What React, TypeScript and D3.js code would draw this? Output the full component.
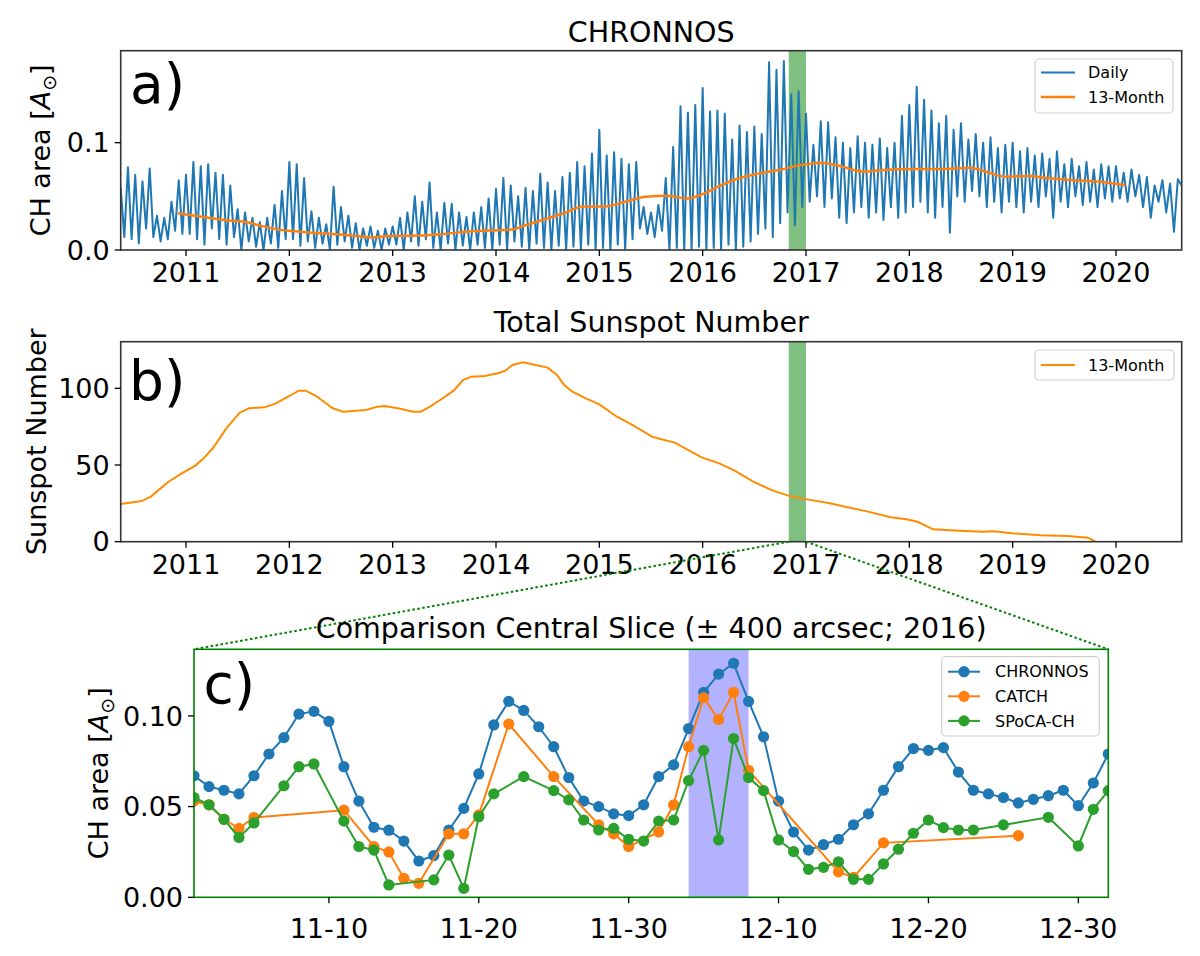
import React from "react";
import * as d3 from "d3";

// ---------- panel a: CHRONNOS daily CH area (one value every ~13 days, peaks and troughs)
const daily2010 = [0.058, 0.012, 0.077, 0.010, 0.070, 0.006, 0.064, 0.020, 0.076, 0.012, 0.032, 0.008, 0.030, 0.010, 0.045, 0.018, 0.065, 0.015];
const daily2011 = [0.070, 0.015, 0.082, 0.010, 0.078, 0.005, 0.080, 0.020, 0.072, 0.010, 0.070, 0.005, 0.060, 0.012, 0.038, 0.000, 0.035, 0.008, 0.030, 0.003, 0.026, 0.000, 0.030, 0.006, 0.042, 0.002, 0.055, 0.010];
const daily2012 = [0.082, 0.010, 0.080, 0.004, 0.067, 0.008, 0.036, 0.002, 0.030, 0.006, 0.024, 0.000, 0.059, 0.005, 0.040, 0.008, 0.032, 0.002, 0.025, 0.000, 0.020, 0.004, 0.022, 0.002, 0.018, 0.000, 0.020, 0.005];
const daily2013 = [0.022, 0.005, 0.030, 0.000, 0.035, 0.008, 0.050, 0.004, 0.045, 0.010, 0.063, 0.002, 0.035, 0.000, 0.044, 0.006, 0.043, 0.000, 0.035, 0.004, 0.031, 0.000, 0.035, 0.005, 0.040, 0.002, 0.048, 0.000];
const daily2014 = [0.057, 0.005, 0.067, 0.000, 0.060, 0.008, 0.050, 0.003, 0.058, 0.000, 0.055, 0.006, 0.071, 0.002, 0.063, 0.000, 0.055, 0.004, 0.068, 0.000, 0.072, 0.003, 0.082, 0.000, 0.078, 0.005, 0.090, 0.000];
const daily2015 = [0.112, 0.002, 0.088, 0.000, 0.091, 0.005, 0.085, 0.000, 0.080, 0.010, 0.082, 0.020, 0.040, 0.015, 0.035, 0.012, 0.042, 0.018, 0.067, 0.000, 0.096, 0.002, 0.134, 0.000, 0.128, 0.000, 0.135, 0.003];
const daily2016 = [0.151, 0.000, 0.129, 0.002, 0.130, 0.000, 0.127, 0.005, 0.103, 0.000, 0.116, 0.003, 0.110, 0.008, 0.115, 0.015, 0.108, 0.020, 0.175, 0.012, 0.168, 0.025, 0.176, 0.035, 0.145, 0.023, 0.148, 0.040];
const daily2017 = [0.127, 0.045, 0.098, 0.050, 0.120, 0.040, 0.119, 0.048, 0.105, 0.030, 0.100, 0.025, 0.095, 0.035, 0.106, 0.040, 0.100, 0.030, 0.098, 0.035, 0.104, 0.028, 0.095, 0.040, 0.100, 0.030, 0.125, 0.035];
const daily2018 = [0.135, 0.040, 0.152, 0.045, 0.140, 0.035, 0.130, 0.030, 0.118, 0.040, 0.125, 0.016, 0.112, 0.050, 0.118, 0.045, 0.103, 0.055, 0.108, 0.050, 0.100, 0.040, 0.105, 0.045, 0.095, 0.035, 0.098, 0.045];
const daily2019 = [0.100, 0.040, 0.092, 0.035, 0.095, 0.045, 0.088, 0.040, 0.090, 0.050, 0.085, 0.030, 0.092, 0.045, 0.080, 0.040, 0.085, 0.050, 0.078, 0.042, 0.082, 0.045, 0.075, 0.040, 0.080, 0.048, 0.078, 0.045];
const daily2020 = [0.078, 0.048, 0.072, 0.045, 0.075, 0.050, 0.070, 0.040, 0.068, 0.030, 0.060, 0.045, 0.065, 0.035, 0.062, 0.017, 0.066, 0.060];
const dailyYears = [2010, 2011, 2012, 2013, 2014, 2015, 2016, 2017, 2018, 2019, 2020];
const dailyByYear = [daily2010, daily2011, daily2012, daily2013, daily2014, daily2015, daily2016, daily2017, daily2018, daily2019, daily2020];

// 13-month smoothed CH area
const smoothYears = [2010.92, 2011.15, 2011.4, 2011.55, 2011.75, 2011.9, 2012.1, 2012.3, 2012.55, 2012.8, 2013.0, 2013.25, 2013.5, 2013.75, 2014.0, 2014.15, 2014.3, 2014.5, 2014.65, 2014.85, 2015.05, 2015.25, 2015.45, 2015.65, 2015.85, 2016.0, 2016.15, 2016.35, 2016.55, 2016.75, 2016.92, 2017.15, 2017.35, 2017.55, 2017.75, 2018.05, 2018.35, 2018.58, 2018.72, 2018.93, 2019.15, 2019.35, 2019.55, 2019.9, 2020.09];
const smoothArea = [0.0342, 0.031, 0.0275, 0.0265, 0.022, 0.019, 0.017, 0.0155, 0.014, 0.0118, 0.0132, 0.0135, 0.015, 0.0175, 0.0185, 0.019, 0.0235, 0.0295, 0.034, 0.0405, 0.0405, 0.045, 0.0497, 0.0505, 0.048, 0.052, 0.059, 0.0668, 0.0714, 0.0748, 0.0786, 0.0814, 0.0777, 0.073, 0.0745, 0.0755, 0.0755, 0.0767, 0.0736, 0.0683, 0.069, 0.0668, 0.0652, 0.063, 0.0605];

// ---------- panel b: 13-month smoothed total sunspot number
const ssnYears = [2010.37, 2010.57, 2010.66, 2010.83, 2010.96, 2011.09, 2011.16, 2011.26, 2011.39, 2011.52, 2011.61, 2011.76, 2011.87, 2012.0, 2012.09, 2012.16, 2012.26, 2012.42, 2012.52, 2012.74, 2012.85, 2012.92, 2013.05, 2013.2, 2013.27, 2013.35, 2013.46, 2013.59, 2013.68, 2013.76, 2013.89, 2014.02, 2014.09, 2014.16, 2014.26, 2014.35, 2014.5, 2014.59, 2014.66, 2014.74, 2014.87, 2015.0, 2015.17, 2015.32, 2015.51, 2015.6, 2015.73, 2015.99, 2016.16, 2016.31, 2016.49, 2016.68, 2016.86, 2017.01, 2017.23, 2017.38, 2017.6, 2017.82, 2017.97, 2018.08, 2018.23, 2018.49, 2018.71, 2018.82, 2019.01, 2019.27, 2019.53, 2019.73, 2019.8];
const ssnValues = [24.6, 26.5, 29.4, 39.1, 44.6, 49.6, 53.7, 60.9, 73.9, 84.1, 87.0, 87.6, 90.2, 95.0, 98.5, 98.5, 95.0, 87.0, 84.8, 85.9, 88.0, 88.5, 87.0, 84.8, 84.8, 87.6, 92.4, 98.5, 105.4, 107.6, 108.0, 109.8, 111.5, 115.2, 117.0, 115.7, 113.5, 108.7, 102.2, 97.8, 93.5, 89.5, 81.5, 76.1, 68.5, 66.8, 64.6, 55.0, 51.1, 46.3, 39.1, 33.3, 29.4, 27.6, 25.0, 22.8, 19.6, 15.9, 14.6, 13.0, 8.1, 7.2, 6.5, 6.8, 5.4, 4.2, 3.7, 2.6, 0];

// ---------- panel c: central slice, one value per day from 2016-11-01 (null = no detection)
const chronnosSlice = [0.067, 0.061, 0.059, 0.057, 0.067, 0.079, 0.088, 0.101, 0.1025, 0.097, 0.072, 0.053, 0.0386, 0.037, 0.031, 0.020, 0.023, 0.037, 0.049, 0.068, 0.095, 0.108, 0.103, 0.094, 0.083, 0.066, 0.053, 0.050, 0.046, 0.045, 0.051, 0.0665, 0.073, 0.093, 0.113, 0.123, 0.129, 0.108, 0.0885, 0.053, 0.036, 0.026, 0.029, 0.032, 0.040, 0.046, 0.059, 0.072, 0.082, 0.081, 0.0825, 0.069, 0.059, 0.057, 0.055, 0.052, 0.054, 0.056, 0.059, 0.0505, 0.063, 0.079];
const catchSlice = [0.053, 0.051, 0.043, 0.038, 0.044, null, null, null, null, null, 0.048, null, 0.028, 0.025, 0.0105, 0.0077, null, 0.035, 0.035, 0.0454, null, 0.0955, null, null, 0.0665, null, null, 0.040, 0.035, 0.028, null, 0.036, 0.051, 0.083, 0.110, 0.098, 0.113, 0.070, null, null, null, null, null, 0.014, 0.011, null, 0.030, null, null, null, null, null, null, null, null, 0.034, null, null, null, null, null, null];
const spocaSlice = [0.055, 0.051, 0.043, 0.033, 0.041, null, 0.0615, 0.072, 0.0735, null, 0.042, 0.028, 0.026, 0.0068, null, null, 0.0096, 0.0233, 0.0049, 0.0444, 0.057, null, 0.0665, null, 0.0588, 0.0537, 0.0426, 0.0371, 0.038, 0.032, 0.031, 0.042, 0.0426, 0.0643, 0.081, 0.0316, 0.0875, 0.066, 0.0588, 0.0316, 0.0252, 0.0154, 0.0165, 0.0196, 0.0099, 0.0099, 0.0184, 0.0265, 0.0353, 0.0426, 0.0384, 0.0371, 0.0371, null, 0.0399, null, null, 0.0441, null, 0.0283, 0.0485, 0.0588];

const yearTicks = [2011, 2012, 2013, 2014, 2015, 2016, 2017, 2018, 2019, 2020];
const areaTicksA = [0, 0.1];
const ssnTicks = [0, 50, 100];
const areaTicksC = [0, 0.05, 0.1];
const dayTicks = ["2016-11-10", "2016-11-20", "2016-11-30", "2016-12-10", "2016-12-20", "2016-12-30"];

const FONT = "DejaVu Sans, Verdana, sans-serif";
const BLUE = "#1f77b4";
const ORANGE = "#ff7f0e";
const GREEN = "#2ca02c";

const A = { l: 120.7, r: 1181.7, t: 50.7, b: 250 };
const B = { l: 120.7, r: 1181.7, t: 341.7, b: 541.7 };
const C = { l: 194, r: 1108.3, t: 649.3, b: 897.3 };

const xYear = d3.scaleLinear().domain([2010.368, 2020.636]).range([A.l, A.r]);
const yA = d3.scaleLinear().domain([0, 0.1857]).range([A.b, A.t]);
const yB = d3.scaleLinear().domain([0, 130.4]).range([B.b, B.t]);
const parseDay = d3.utcParse("%Y-%m-%d");
const day0 = parseDay("2016-11-01") as Date;
const xDay = d3.scaleUtc().domain([day0, parseDay("2017-01-01") as Date]).range([C.l, C.r]);
const yC = d3.scaleLinear().domain([0, 0.1367]).range([C.b, C.t]);

const bandStart = 2016 + 305 / 366; // 2016-11-01
const bandEnd = 2017.0;
const blueBand = ["2016-12-04", "2016-12-08"];

type P = { t: number; v: number };

const dailyPts: P[] = dailyByYear.flatMap((vals, k) => {
  const y = dailyYears[k];
  const s = Math.max(y, xYear.domain()[0]);
  const e = Math.min(y + 1, xYear.domain()[1]);
  const last = k === dailyByYear.length - 1;
  return vals.map((v, j) => ({ t: s + ((e - s) * j) / (last ? vals.length - 1 : vals.length), v }));
});
const smoothPts: P[] = smoothYears.map((t, i) => ({ t, v: smoothArea[i] }));
const ssnPts: P[] = ssnYears.map((t, i) => ({ t, v: ssnValues[i] }));

const slicePts = (arr: (number | null)[]) =>
  arr
    .map((v, i) => ({ d: d3.utcDay.offset(day0, i), v }))
    .filter((p) => p.v !== null) as { d: Date; v: number }[];

const lineA = d3.line<P>().x((p) => xYear(p.t)).y((p) => yA(p.v));
const smoothLine = d3.line<P>().x((p) => xYear(p.t)).y((p) => yA(p.v)).curve(d3.curveMonotoneX);
const lineB = d3.line<P>().x((p) => xYear(p.t)).y((p) => yB(p.v));
const lineC = d3.line<{ d: Date; v: number }>().x((p) => xDay(p.d)).y((p) => yC(p.v));

const TICK = 27;
const TITLE = 28.5;
const LABEL = 27;

function Frame({ box, color = "#333" }: { box: typeof A; color?: string }) {
  return (
    <rect x={box.l} y={box.t} width={box.r - box.l} height={box.b - box.t} fill="none" stroke={color} strokeWidth={1.6} />
  );
}

function XTicks({ pos, labels, y, off = 32 }: { pos: number[]; labels: string[]; y: number; off?: number }) {
  return (
    <g>
      {pos.map((x, i) => (
        <g key={i}>
          <line x1={x} x2={x} y1={y} y2={y + 6} stroke="#000" strokeWidth={1.3} />
          <text x={x} y={y + off} textAnchor="middle" fontSize={TICK}>
            {labels[i]}
          </text>
        </g>
      ))}
    </g>
  );
}

function YTicks({ pos, labels, x }: { pos: number[]; labels: string[]; x: number }) {
  return (
    <g>
      {pos.map((y, i) => (
        <g key={i}>
          <line x1={x - 6} x2={x} y1={y} y2={y} stroke="#000" strokeWidth={1.3} />
          <text x={x - 11} y={y} dy="0.36em" textAnchor="end" fontSize={TICK}>
            {labels[i]}
          </text>
        </g>
      ))}
    </g>
  );
}

function AreaLabel({ x, y }: { x: number; y: number }) {
  return (
    <text transform={`translate(${x},${y}) rotate(-90)`} textAnchor="middle" dy="0.36em" fontSize={LABEL}>
      CH area [<tspan fontStyle="italic">A</tspan>
      <tspan fontSize={19} dy={6}>⊙</tspan>
      <tspan dy={-6}>]</tspan>
    </text>
  );
}

function LegendBox({ x, y, w, h }: { x: number; y: number; w: number; h: number }) {
  return <rect x={x} y={y} width={w} height={h} rx={4} fill="#fff" fillOpacity={0.85} stroke="#d0d0d0" strokeWidth={1.2} />;
}

export default function App() {
  const f1 = d3.format(".1f");
  const f2 = d3.format(".2f");
  const fmtDay = d3.utcFormat("%m-%d");
  const cSeries = [
    { name: "CHRONNOS", color: BLUE, pts: slicePts(chronnosSlice) },
    { name: "CATCH", color: ORANGE, pts: slicePts(catchSlice) },
    { name: "SPoCA-CH", color: GREEN, pts: slicePts(spocaSlice) },
  ];
  const bx0 = xYear(bandStart);
  const bx1 = xYear(bandEnd);

  return (
    <svg width={1200} height={956} viewBox="0 0 1200 956" style={{ position: "absolute", left: 0, top: 0, background: "#fff" }} fontFamily={FONT}>
      <defs>
        <clipPath id="clipA">
          <rect x={A.l} y={A.t} width={A.r - A.l} height={A.b - A.t} />
        </clipPath>
        <clipPath id="clipB">
          <rect x={B.l} y={B.t} width={B.r - B.l} height={B.b - B.t} />
        </clipPath>
        <clipPath id="clipC">
          <rect x={C.l} y={C.t} width={C.r - C.l} height={C.b - C.t} />
        </clipPath>
      </defs>
      <rect width={1200} height={956} fill="#fff" />

      {/* ---------- panel a ---------- */}
      <text x={(A.l + A.r) / 2} y={42} textAnchor="middle" fontSize={TITLE}>CHRONNOS</text>
      <rect x={bx0} y={A.t} width={bx1 - bx0} height={A.b - A.t} fill="green" fillOpacity={0.5} />
      <g clipPath="url(#clipA)">
        <path d={lineA(dailyPts) ?? ""} fill="none" stroke={BLUE} strokeWidth={2} strokeLinejoin="round" />
        <path d={smoothLine(smoothPts) ?? ""} fill="none" stroke={ORANGE} strokeWidth={2.5} />
      </g>
      <Frame box={A} />
      <XTicks pos={yearTicks.map((t) => xYear(t))} labels={yearTicks.map(String)} y={A.b} />
      <YTicks pos={areaTicksA.map((v) => yA(v))} labels={areaTicksA.map(f1)} x={A.l} />
      <AreaLabel x={40} y={(A.t + A.b) / 2} />
      <text x={130} y={103} fontSize={55}>a)</text>
      <LegendBox x={1035} y={59} w={138} h={54} />
      <line x1={1041} x2={1075} y1={72.5} y2={72.5} stroke={BLUE} strokeWidth={2} />
      <text x={1088} y={72.5} dy="0.36em" fontSize={16}>Daily</text>
      <line x1={1041} x2={1075} y1={97} y2={97} stroke={ORANGE} strokeWidth={2.5} />
      <text x={1088} y={97} dy="0.36em" fontSize={16}>13-Month</text>

      {/* ---------- panel b ---------- */}
      <text x={(B.l + B.r) / 2} y={331.5} textAnchor="middle" fontSize={TITLE}>Total Sunspot Number</text>
      <rect x={bx0} y={B.t} width={bx1 - bx0} height={B.b - B.t} fill="green" fillOpacity={0.5} />
      <g clipPath="url(#clipB)">
        <path d={lineB(ssnPts) ?? ""} fill="none" stroke="#ff8c00" strokeWidth={2} />
      </g>
      <Frame box={B} />
      <XTicks pos={yearTicks.map((t) => xYear(t))} labels={yearTicks.map(String)} y={B.b} />
      <YTicks pos={ssnTicks.map((v) => yB(v))} labels={ssnTicks.map(String)} x={B.l} />
      <text transform={`translate(36,${(B.t + B.b) / 2}) rotate(-90)`} textAnchor="middle" dy="0.36em" fontSize={LABEL}>
        Sunspot Number
      </text>
      <text x={129} y={400} fontSize={55}>b)</text>
      <LegendBox x={1035} y={350} w={139} h={30} />
      <line x1={1041} x2={1075} y1={365} y2={365} stroke="#ff8c00" strokeWidth={2} />
      <text x={1088} y={365} dy="0.36em" fontSize={16}>13-Month</text>

      {/* ---------- zoom connectors ---------- */}
      <line x1={bx0} y1={B.b} x2={C.l} y2={C.t} stroke="green" strokeWidth={2} strokeDasharray="2.5,2.5" />
      <line x1={bx1} y1={B.b} x2={C.r} y2={C.t} stroke="green" strokeWidth={2} strokeDasharray="2.5,2.5" />

      {/* ---------- panel c ---------- */}
      <text x={(C.l + C.r) / 2} y={638} textAnchor="middle" fontSize={TITLE}>
        Comparison Central Slice (± 400 arcsec; 2016)
      </text>
      <rect
        x={xDay(parseDay(blueBand[0]) as Date)}
        y={C.t}
        width={xDay(parseDay(blueBand[1]) as Date) - xDay(parseDay(blueBand[0]) as Date)}
        height={C.b - C.t}
        fill="blue"
        fillOpacity={0.3}
      />
      <g clipPath="url(#clipC)">
        {cSeries.map((s) => (
          <g key={s.name}>
            <path d={lineC(s.pts) ?? ""} fill="none" stroke={s.color} strokeWidth={2} />
            {s.pts.map((p, i) => (
              <circle key={i} cx={xDay(p.d)} cy={yC(p.v)} r={5.6} fill={s.color} />
            ))}
          </g>
        ))}
      </g>
      <Frame box={C} color="green" />
      <XTicks
        pos={dayTicks.map((d) => xDay(parseDay(d) as Date))}
        labels={dayTicks.map((d) => fmtDay(parseDay(d) as Date))}
        y={C.b}
        off={41}
      />
      <YTicks pos={areaTicksC.map((v) => yC(v))} labels={areaTicksC.map(f2)} x={C.l} />
      <AreaLabel x={98} y={(C.t + C.b) / 2} />
      <text x={203.5} y={703} fontSize={55}>c)</text>
      <LegendBox x={941.7} y={656.7} w={157.6} h={79.3} />
      {cSeries.map((s, i) => {
        const y = 671.7 + i * 24.6;
        return (
          <g key={s.name}>
            <line x1={948} x2={980} y1={y} y2={y} stroke={s.color} strokeWidth={2} />
            <circle cx={964} cy={y} r={5.6} fill={s.color} />
            <text x={995} y={y} dy="0.36em" fontSize={16}>
              {s.name}
            </text>
          </g>
        );
      })}
    </svg>
  );
}
